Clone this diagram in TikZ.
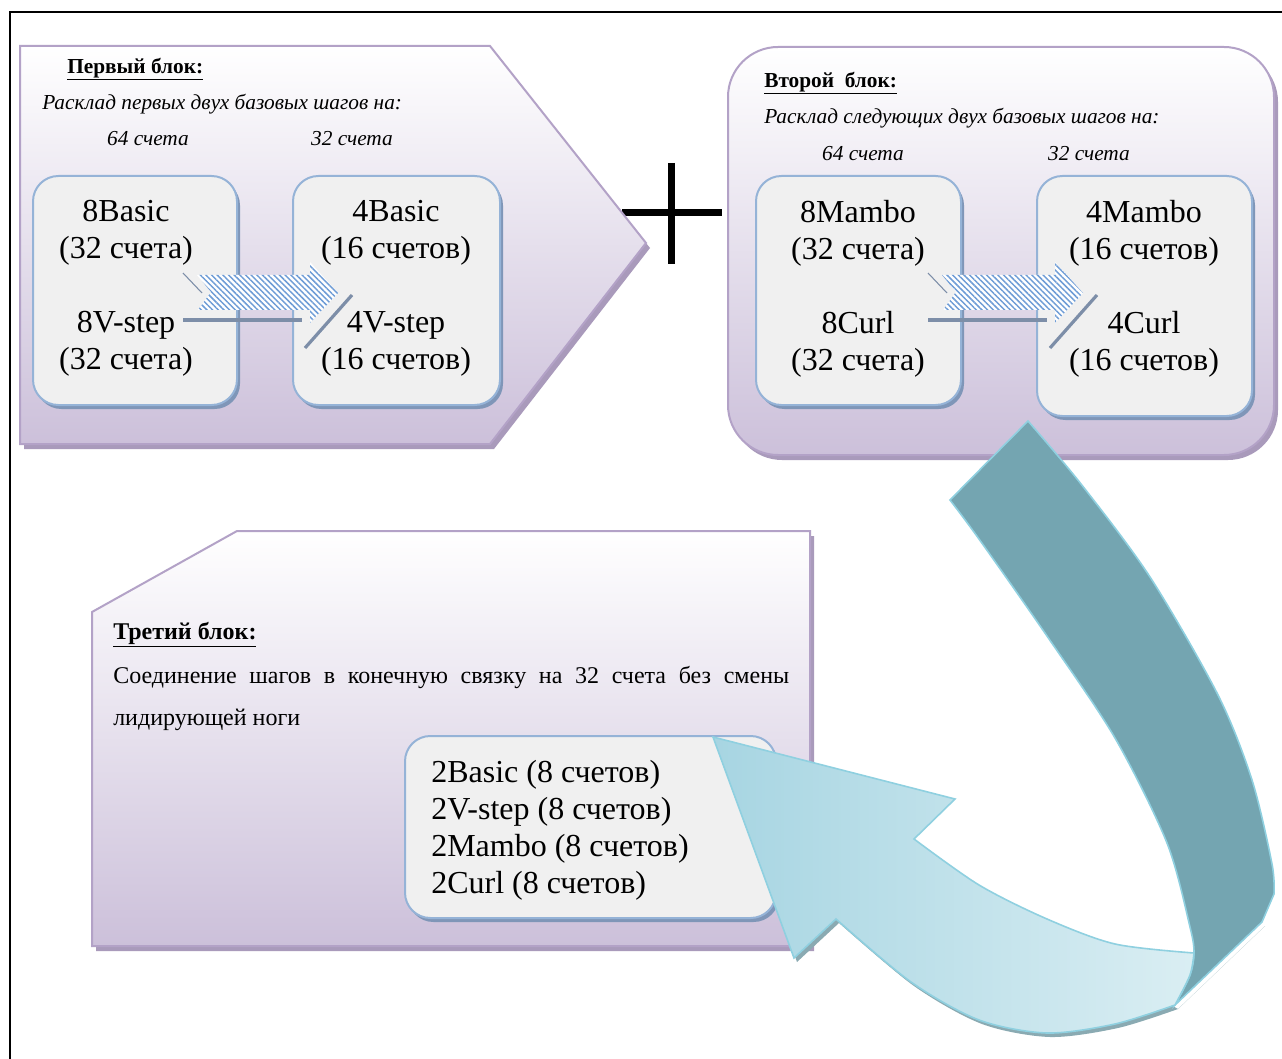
\documentclass[tikz,border=0pt]{standalone}
\usepackage{fontspec}
\setmainfont{Liberation Serif}
\usepackage{xcolor}
\usepackage{tikz}
\usetikzlibrary{patterns.meta}
\definecolor{lavbot}{HTML}{CCC0DA}
\definecolor{lavedge}{HTML}{B3A2C7}
\definecolor{lavshadow}{HTML}{A99ABB}
\definecolor{boxfill}{HTML}{F0F0F0}
\definecolor{boxedge}{HTML}{95B3D7}
\definecolor{boxshadow}{HTML}{7F96B8}
\definecolor{hatchblue}{HTML}{6E9CD6}
\definecolor{arrshadow}{HTML}{7D8EA8}
\definecolor{ribdark}{HTML}{74A5B1}
\definecolor{riblightA}{HTML}{A7D5E2}
\definecolor{riblightB}{HTML}{DAEEF3}
\definecolor{ribedge}{HTML}{8FD0E0}
\definecolor{ribshadow}{HTML}{8AAAB2}

\tikzset{
  blockfill/.style={top color=white, bottom color=lavbot, draw=lavedge, line width=1.5pt},
  blockshadow/.style={fill=lavshadow},
  innerbox/.style={fill=boxfill, draw=boxedge, line width=1.5pt, rounded corners=19pt},
  innershadow/.style={fill=boxshadow, rounded corners=19pt},
  boxtext/.style={font=\fontsize{24pt}{27.75pt}\selectfont, align=center, inner sep=0pt},
  headtext/.style={font=\fontsize{16pt}{19pt}\selectfont\bfseries, anchor=west, inner sep=0pt},
  subtext/.style={font=\fontsize{16pt}{19pt}\selectfont\itshape, inner sep=0pt},
  hatcharrow/.style={pattern={Lines[angle=-45, distance=3pt, line width=1.1pt]}, pattern color=hatchblue, preaction={fill=white}},
  hatchshadow/.style={draw=arrshadow, line width=2.4pt}
}

\begin{document}
\begin{tikzpicture}[x=0.75pt, y=-0.75pt]
  \useasboundingbox (0,0) rectangle (1282,1059);
  \clip (0,0) rectangle (1282,1059);
  \fill[white] (0,0) rectangle (1282,1059);
  \draw[line width=1.5pt] (10,12) rectangle (1300,1080);
  % plus sign -------------------------------------------------------
  \draw[line width=5.25pt] (671,163) -- (671,264);
  \draw[line width=5.25pt] (622,213) -- (722,213);
  % ================================================================
  % first block
  % ================================================================
  \begin{scope}
    \fill[blockshadow, shift={(4,5)}] (20,46) -- (490,46) -- (646,243) -- (490,444) -- (20,444) -- cycle;
    \draw[blockfill] (20,46) -- (490,46) -- (646,243) -- (490,444) -- (20,444) -- cycle;
    \fill[innershadow, shift={(3,4)}] (33,176) rectangle (237,405);
    \draw[innerbox] (33,176) rectangle (237,405);
    \fill[innershadow, shift={(3,4)}] (293,176) rectangle (500,405);
    \draw[innerbox] (293,176) rectangle (500,405);
    % labels ---------------------------------------------------------
    \node[headtext] (head1) at (67,69) {\underline{Первый блок:}};
    \node[subtext, anchor=west] (sub1) at (42,104) {Расклад первых двух базовых шагов на:};
    \node[subtext] (cnt1a) at (148,139) {64 счета};
    \node[subtext] (cnt1b) at (352,139) {32 счета};
    \node[boxtext] (s1a) at (126,233) {8Basic\\(32 счета)};
    \node[boxtext] (s1b) at (126,344) {8V-step\\(32 счета)};
    \node[boxtext] (s1c) at (396,233) {4Basic\\(16 счетов)};
    \node[boxtext] (s1d) at (396,344) {4V-step\\(16 счетов)};
  \end{scope}
  % ================================================================
  % second block
  % ================================================================
  \begin{scope}
    \fill[blockshadow, rounded corners=37.5pt, shift={(4,5)}] (728,47) rectangle (1274,455);
    \draw[blockfill, rounded corners=37.5pt] (728,47) rectangle (1274,455);
    \fill[innershadow, shift={(3,4)}] (756,176) rectangle (961,405);
    \draw[innerbox] (756,176) rectangle (961,405);
    \fill[innershadow, shift={(3,4)}] (1037,176) rectangle (1252,416);
    \draw[innerbox] (1037,176) rectangle (1252,416);
    % labels ---------------------------------------------------------
    \node[headtext] (head2) at (764,83) {\underline{Второй~~блок:}};
    \node[subtext, anchor=west] (sub2) at (764,118) {Расклад следующих двух базовых шагов на:};
    \node[subtext] (cnt2a) at (863,154) {64 счета};
    \node[subtext] (cnt2b) at (1089,154) {32 счета};
    \node[boxtext] (s2a) at (858,233) {8Mambo\\(32 счета)};
    \node[boxtext] (s2b) at (858,344) {8Curl\\(32 счета)};
    \node[boxtext] (s2c) at (1144,233) {4Mambo\\(16 счетов)};
    \node[boxtext] (s2d) at (1144,344) {4Curl\\(16 счетов)};
  \end{scope}
  % hatched arrows ---------------------------------------------------
  \foreach \dx in {0,745} {
    \begin{scope}[shift={(\dx,0)}]
      \draw[hatchshadow] (183,320) -- (302,320);
      \draw[hatchshadow] (352,295) -- (305,348);
      \draw[draw=arrshadow, line width=0.8pt] (183,273) -- (202,293);
      \fill[hatcharrow] (197,275) -- (310,275) -- (310,262) -- (338,293) -- (310,323) -- (310,310) -- (198,310) -- (211,292) -- cycle;
    \end{scope}
  }
  % ================================================================
  % third block
  % ================================================================
  \begin{scope}
    \fill[blockshadow, shift={(4,5)}] (92,612) -- (237,531) -- (810,531) -- (810,946) -- (92,946) -- cycle;
    \draw[blockfill] (92,612) -- (237,531) -- (810,531) -- (810,946) -- (92,946) -- cycle;
    \fill[innershadow, shift={(3,4)}] (405,736) rectangle (776,918);
    \draw[innerbox] (405,736) rectangle (776,918);
    % labels ---------------------------------------------------------
    \node[headtext, font=\fontsize{18pt}{21pt}\selectfont\bfseries] (head3) at (113,635) {\underline{Третий блок:}};
    \node[anchor=west, inner sep=0pt, font=\fontsize{18pt}{21pt}\selectfont] (body3a) at (113,677) {\makebox[507pt][s]{Соединение шагов в конечную связку на 32 счета без смены}};
    \node[anchor=west, inner sep=0pt, font=\fontsize{18pt}{21pt}\selectfont] (body3b) at (113,720) {лидирующей ноги};
    \node[boxtext, anchor=west, align=left] (list3) at (431,830) {2Basic (8 счетов)\\2V-step (8 счетов)\\2Mambo (8 счетов)\\2Curl (8 счетов)};
  \end{scope}
  % ================================================================
  % turning ribbon arrow
  % ================================================================
  \fill[ribshadow, shift={(3,4)}] (713,737) -- (794,958) -- (836,919) -- plot[smooth] coordinates {(836,919) (911,982) (979,1020) (1047,1033) (1115,1024) (1175,1005)} -- (1262,922) -- (1175,1005) -- cycle;
  \filldraw[fill=ribdark, draw=ribedge, line width=1.2pt] (1028,421) -- plot[smooth] coordinates {(1028,421) (1081,484) (1150,577) (1218,695) (1252,780) (1272,864) (1274,894)} -- (1262,922) -- (1175,1005) -- plot[smooth] coordinates {(1175,1005) (1190,975) (1194,953) (1190,927) (1167,843) (1115,738) (1047,636) (979,539) (950,500)} -- cycle;
  \filldraw[left color=riblightA, right color=riblightB, draw=ribedge, line width=1.2pt] (1194,953) -- plot[smooth] coordinates {(1194,953) (1115,944) (1047,919) (979,885) (914,839)} -- (955,799) -- (713,737) -- (794,958) -- (836,919) -- plot[smooth] coordinates {(836,919) (911,982) (979,1020) (1047,1033) (1115,1024) (1175,1005)} -- plot[smooth] coordinates {(1175,1005) (1190,975) (1194,953)} -- cycle;
\end{tikzpicture}
\end{document}
